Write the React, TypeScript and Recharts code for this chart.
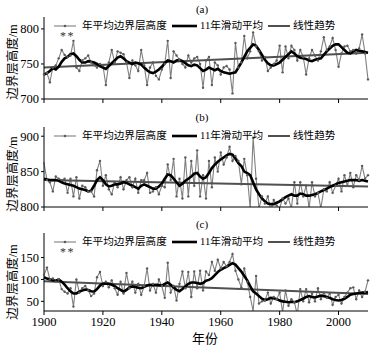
import React from "react";
import { LineChart, Line, XAxis, YAxis } from "recharts";

const startYear = 1900;
const endYear = 2010;
const years: number[] = [];
for (let y = startYear; y <= endYear; y++) years.push(y);
const xTicks = [1900, 1920, 1940, 1960, 1980, 2000];

// Panel (a)
const annualA = [
  735, 737, 724, 745, 748, 758, 770, 763, 760, 762,
  783, 745, 740, 755, 758, 762, 752, 748, 745, 750,
  748, 720, 752, 770, 752, 768, 766, 764, 752, 730,
  755, 748, 740, 770, 748, 720, 745, 752, 733, 728,
  742, 750, 783, 730, 768, 762, 756, 750, 745, 762,
  752, 758, 760, 750, 716, 755, 760, 720, 752, 748,
  735, 745, 747, 742, 708, 780, 745, 752, 790, 758,
  768, 795, 775, 768, 755, 760, 740, 745, 750, 755,
  776, 738, 775, 758, 776, 770, 755, 770, 760, 735,
  758, 770, 762, 755, 768, 788, 770, 775, 787, 770,
  746, 765, 775, 776, 768, 770, 765, 772, 792, 765, 728,
];
const maA = [
  735, 737, 740, 744, 742, 746, 753, 758, 760, 764,
  765, 761, 756, 752, 752, 754, 753, 752, 750, 747,
  745, 743, 747, 751, 755, 759, 761, 758, 754, 752,
  750, 752, 751, 749, 745, 741, 738, 737, 739, 742,
  746, 751, 755, 754, 752, 755, 756, 754, 751, 748,
  747, 749, 748, 744, 740, 742, 745, 743, 741, 743,
  740, 738, 737, 736, 737, 738, 745, 752, 760, 768,
  773, 778, 776, 770, 763, 756, 751, 748, 748, 750,
  752, 756, 760, 764, 768, 765, 761, 759, 758, 757,
  755, 754, 756, 757, 758, 763, 768, 772, 776, 778,
  778, 774, 770, 766, 765, 768, 770, 769, 768, 767, 766,
];
const trendA = [745, 766];

// Panel (b)
const annualB = [
  862, 838, 835, 822, 843, 840, 838, 840, 820, 840,
  815, 842, 812, 830, 828, 822, 822, 815, 852, 865,
  830, 845, 825, 818, 835, 828, 842, 825, 838, 842,
  828, 840, 820, 838, 838, 848, 820, 822, 828, 818,
  830, 828, 860, 838, 868, 815, 840, 812, 870, 815,
  865, 830, 880, 815, 845, 812, 865, 828, 870, 850,
  877, 860, 870, 885, 865, 872, 865, 832, 868, 845,
  798, 898, 840, 798, 815, 805, 815, 795, 810, 802,
  798, 812, 805, 812, 798, 835, 805, 835, 815, 830,
  798, 835, 815, 820, 798, 825, 822, 835, 820, 830,
  840, 822, 845, 830, 848, 828, 845, 838, 858, 840, 845,
];
const maB = [
  840, 839, 838, 838, 838, 837, 835, 833, 832, 831,
  830, 828, 826, 825, 824, 822, 823, 830, 838, 842,
  838, 832, 829, 830, 832, 832, 833, 835, 834, 832,
  830, 828, 826, 830, 832, 830, 828, 826, 826, 829,
  833, 840, 846, 845, 840, 835, 830, 833, 837, 840,
  843, 847, 848, 843, 840, 842, 848, 855, 860, 864,
  867, 870, 873, 875, 874, 868, 862, 858, 850, 848,
  845, 835, 825, 818, 812, 808, 805, 804, 804, 806,
  808, 811, 814, 816, 818, 816, 816, 819, 818, 816,
  816, 817, 818, 820, 822, 824, 826, 828, 830, 832,
  834, 835, 836, 837, 838, 838, 838, 837, 838, 837, 836,
];
const trendB = [838, 829];

// Panel (c)
const annualC = [
  110, 127, 100, 102, 95, 100, 78, 72, 68, 80,
  38, 100, 70, 80, 85, 75, 62, 68, 105, 117,
  85, 95, 82, 98, 80, 65, 95, 68, 115, 80,
  95, 70, 90, 65, 85, 125, 75, 90, 70, 100,
  85, 58, 138, 70, 85, 52, 90, 118, 80, 117,
  60, 118, 80, 120, 75, 118, 110, 140, 120, 145,
  125, 140, 130, 140, 158, 120, 100, 82, 125, 95,
  60, 28, 108, 45, 50, 52, 70, 45, 60, 55,
  70, 25, 75, 40, 55, 48, 20, 78, 50, 78,
  48, 68, 50, 80, 55, 70, 58, 68, 42, 60,
  65, 45, 60, 70, 80, 82, 55, 75, 60, 72, 98,
];
const maC = [
  105, 102, 100, 98, 97, 100, 95, 88, 80, 73,
  68, 68, 72, 75, 77, 76, 73, 72, 78, 86,
  90, 91, 90, 88, 85, 80, 76, 72, 76, 82,
  84, 83, 81, 80, 83, 86, 88, 87, 88, 87,
  86, 90, 93, 88, 82, 76, 73, 78, 84, 90,
  93, 93, 92, 90, 92, 97, 99, 103, 110, 117,
  122, 126, 129, 133, 137, 134, 126, 118, 108, 98,
  85, 73, 68, 62, 56, 53, 55, 58, 57, 55,
  52, 50, 49, 48, 49, 48, 50, 53, 56, 60,
  62, 60, 59, 61, 63, 62, 60, 58, 55, 53,
  52, 53, 56, 60, 65, 67, 68, 69, 70, 70, 71,
];
const trendC = [96, 67];

const legendNames = ["年平均边界层高度", "11年滑动平均", "线性趋势"];
const yLabelText = "边界层高度/m";
const xLabelText = "年份";
const starsText = "**";

const SERIF = "'Liberation Serif', 'Times New Roman', 'Noto Sans CJK SC', serif";

function buildRows(annual: number[], ma: number[], trend: number[]) {
  return years.map((yr, i) => ({
    year: yr,
    annual: annual[i],
    ma: ma[i],
    trend: i === 0 ? trend[0] : i === years.length - 1 ? trend[1] : null,
  }));
}

type PanelProps = {
  top: number;
  plotH: number;
  xAxisH: number;
  domain: [number, number];
  yTicks: number[];
  rows: any[];
  showXLabels: boolean;
};

function Panel({ top, plotH, xAxisH, domain, yTicks, rows, showXLabels }: PanelProps) {
  const mTop = 17;
  return (
    <div style={{ position: "absolute", left: 0, top }}>
      <LineChart
        width={380}
        height={mTop + plotH + xAxisH}
        data={rows}
        margin={{ top: mTop, right: 12, bottom: 0, left: 0 }}
      >
        <XAxis
          dataKey="year"
          type="number"
          domain={[startYear, endYear]}
          ticks={xTicks}
          height={xAxisH}
          tickSize={4}
          tickMargin={2}
          axisLine={{ stroke: "#000" }}
          tickLine={{ stroke: "#000" }}
          tick={{ fill: "#000", fontSize: 12.5, fontFamily: SERIF }}
          tickFormatter={showXLabels ? (v: number) => String(v) : () => ""}
          interval={0}
        />
        <XAxis
          xAxisId="top"
          orientation="top"
          dataKey="year"
          type="number"
          domain={[startYear, endYear]}
          height={0}
          tick={false}
          tickLine={false}
          axisLine={{ stroke: "#000" }}
        />
        <YAxis
          type="number"
          domain={domain}
          ticks={yTicks}
          allowDataOverflow
          width={44}
          tickSize={3}
          tickMargin={2}
          axisLine={{ stroke: "#000" }}
          tickLine={{ stroke: "#000" }}
          tick={{ fill: "#000", fontSize: 12.5, fontFamily: SERIF }}
          interval={0}
        />
        <YAxis
          yAxisId="right"
          orientation="right"
          type="number"
          domain={domain}
          width={0}
          tick={false}
          tickLine={false}
          axisLine={{ stroke: "#000" }}
        />
        <Line
          dataKey="annual"
          stroke="#808080"
          strokeWidth={1.1}
          dot={{ r: 1.2, fill: "#5a5a5a", stroke: "none" }}
          isAnimationActive={false}
        />
        <Line
          dataKey="trend"
          stroke="#505050"
          strokeWidth={2}
          dot={false}
          connectNulls
          isAnimationActive={false}
        />
        <Line
          dataKey="ma"
          stroke="#000"
          strokeWidth={2.6}
          dot={false}
          isAnimationActive={false}
        />
      </LineChart>
    </div>
  );
}

function LegendRow({ cy, stars }: { cy: number; stars: boolean }) {
  const txt: React.CSSProperties = {
    position: "absolute",
    top: cy - 7,
    height: 14,
    lineHeight: "14px",
    fontSize: 10.6,
    fontFamily: SERIF,
    color: "#000",
    whiteSpace: "nowrap",
  };
  return (
    <>
      <svg style={{ position: "absolute", left: 0, top: cy - 5 }} width={380} height={24}>
        <line x1={54} y1={5} x2={76} y2={5} stroke="#808080" strokeWidth={1.1} />
        <circle cx={65} cy={5} r={1.3} fill="#5a5a5a" />
        <line x1={172} y1={5} x2={197} y2={5} stroke="#000" strokeWidth={2.6} />
        <line x1={268} y1={5} x2={290} y2={5} stroke="#505050" strokeWidth={2} />
        {stars && (
          <text x={60} y={19} fontSize={12} fontFamily={SERIF} fill="#333" letterSpacing={1.5}>
            {starsText}
          </text>
        )}
      </svg>
      <div style={{ ...txt, left: 82 }}>{legendNames[0]}</div>
      <div style={{ ...txt, left: 200 }}>{legendNames[1]}</div>
      <div style={{ ...txt, left: 293 }}>{legendNames[2]}</div>
    </>
  );
}

function Title({ text, cy }: { text: string; cy: number }) {
  return (
    <div
      style={{
        position: "absolute",
        left: 202,
        top: cy,
        transform: "translate(-50%, -50%)",
        fontSize: 11,
        fontFamily: SERIF,
        lineHeight: "12px",
        whiteSpace: "nowrap",
      }}
    >
      {text}
    </div>
  );
}

function YLabel({ cy }: { cy: number }) {
  return (
    <div
      style={{
        position: "absolute",
        left: 13,
        top: cy,
        transform: "translate(-50%, -50%) rotate(-90deg)",
        fontSize: 12.5,
        fontFamily: SERIF,
        lineHeight: "14px",
        whiteSpace: "nowrap",
      }}
    >
      {yLabelText}
    </div>
  );
}

export default function App() {
  const rowsA = buildRows(annualA, maA, trendA);
  const rowsB = buildRows(annualB, maB, trendB);
  const rowsC = buildRows(annualC, maC, trendC);
  return (
    <div
      style={{
        position: "absolute",
        left: 0,
        top: 0,
        width: 380,
        height: 355,
        background: "#fff",
        overflow: "hidden",
      }}
    >
      <Panel top={0} plotH={82} xAxisH={10} domain={[700, 817]} yTicks={[700, 750, 800]} rows={rowsA} showXLabels={false} />
      <Panel top={110} plotH={80} xAxisH={10} domain={[800, 913]} yTicks={[800, 850, 900]} rows={rowsB} showXLabels={false} />
      <Panel top={216} plotH={78} xAxisH={30} domain={[28, 206]} yTicks={[50, 100, 150]} rows={rowsC} showXLabels={true} />
      <Title text="(a)" cy={9} />
      <Title text="(b)" cy={117} />
      <Title text="(c)" cy={224} />
      <LegendRow cy={26} stars={true} />
      <LegendRow cy={136} stars={false} />
      <LegendRow cy={242} stars={true} />
      <YLabel cy={62} />
      <YLabel cy={174} />
      <YLabel cy={282} />
      <div
        style={{
          position: "absolute",
          left: 205,
          top: 339,
          transform: "translate(-50%, -50%)",
          fontSize: 13,
          fontFamily: SERIF,
          lineHeight: "14px",
          whiteSpace: "nowrap",
        }}
      >
        {xLabelText}
      </div>
    </div>
  );
}
